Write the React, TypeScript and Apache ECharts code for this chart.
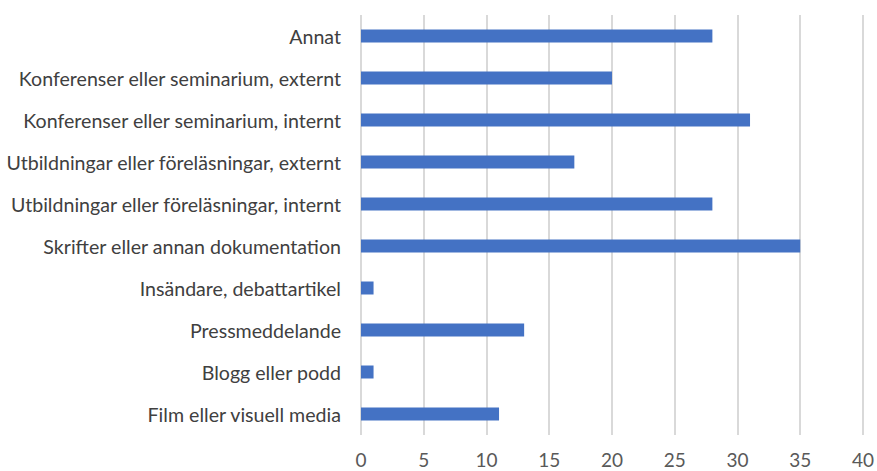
import React, { useEffect, useRef } from "react";
import * as echarts from "echarts";

const categories = [
  "Film eller visuell media",
  "Blogg eller podd",
  "Pressmeddelande",
  "Insändare, debattartikel",
  "Skrifter eller annan dokumentation",
  "Utbildningar eller föreläsningar, internt",
  "Utbildningar eller föreläsningar, externt",
  "Konferenser eller seminarium, internt",
  "Konferenser eller seminarium, externt",
  "Annat",
];
const values = [11, 1, 13, 1, 35, 28, 17, 31, 20, 28];

export default function App() {
  const ref = useRef<HTMLDivElement>(null);
  useEffect(() => {
    if (!ref.current) return;
    const chart = echarts.init(ref.current, null, { renderer: "svg" });
    chart.setOption({
      animation: false,
      grid: { left: 361, right: 10, top: 15, bottom: 36, containLabel: false },
      xAxis: {
        type: "value",
        min: 0,
        max: 40,
        interval: 5,
        axisLine: { show: false },
        axisTick: { show: false },
        splitLine: { show: true, lineStyle: { color: "#d9d9d9", width: 2 } },
        axisLabel: { color: "#595959", fontSize: 19, fontFamily: "Lato", margin: 15 },
      },
      yAxis: {
        type: "category",
        data: categories,
        axisLine: { show: false },
        axisTick: { show: false },
        splitLine: { show: false },
        axisLabel: { color: "#404040", fontSize: 19.6, fontFamily: "Lato", margin: 20 },
      },
      series: [
        {
          type: "bar",
          data: values,
          barWidth: 13,
          itemStyle: { color: "#4472c4" },
        },
      ],
    });
    return () => chart.dispose();
  }, []);
  return (
    <div
      ref={ref}
      style={{ position: "absolute", left: 0, top: 0, width: 877, height: 471, background: "#fff" }}
    />
  );
}
